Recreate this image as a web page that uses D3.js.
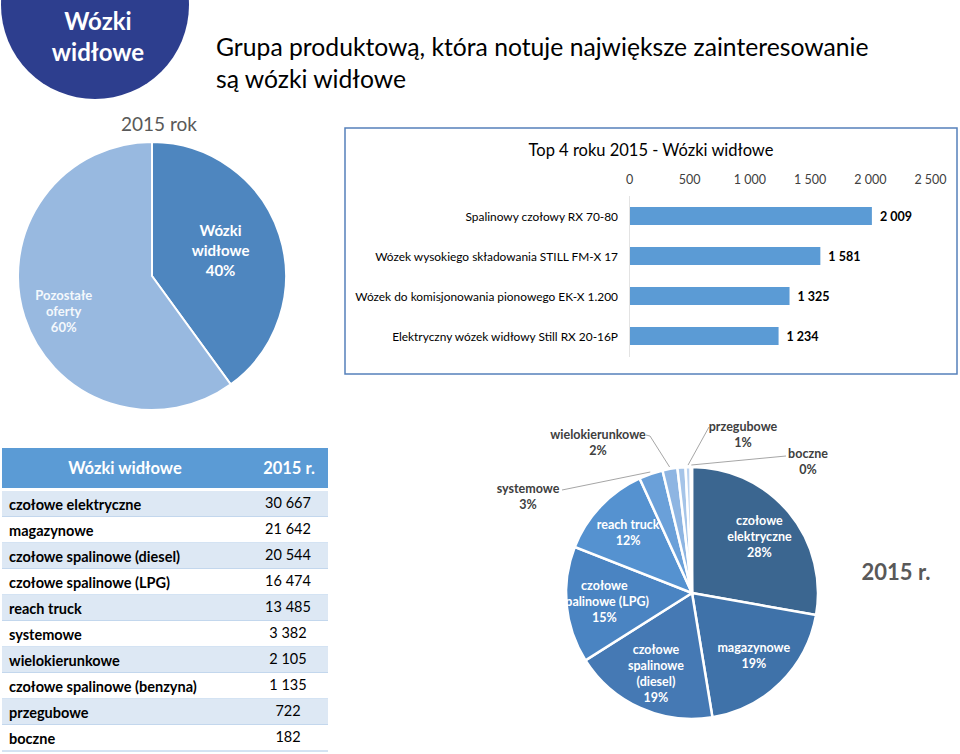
<!DOCTYPE html>
<html><head><meta charset="utf-8">
<script src="https://cdn.jsdelivr.net/npm/d3@7"></script>
<style>
body{margin:0;background:#fff;}
svg{display:block;font-family:Lato,"Open Sans",sans-serif;}
</style></head>
<body>
<svg id="c" width="960" height="754"></svg>
<script>
// ---- data ----
const shareLabels = ["Wózki widłowe", "Pozostałe oferty"];
const shareValues = [40, 60];

const topCategories = ["Spalinowy czołowy RX 70-80", "Wózek wysokiego składowania STILL FM-X 17", "Wózek do komisjonowania pionowego EK-X 1.200", "Elektryczny wózek widłowy Still RX 20-16P"];
const topValues = [2009, 1581, 1325, 1234];
const topTicks = [0, 500, 1000, 1500, 2000, 2500];

const typeCategories = ["czołowe elektryczne", "magazynowe", "czołowe spalinowe (diesel)", "czołowe spalinowe (LPG)", "reach truck", "systemowe", "wielokierunkowe", "czołowe spalinowe (benzyna)", "przegubowe", "boczne"];
const typeValues = [30667, 21642, 20544, 16474, 13485, 3382, 2105, 1135, 722, 182];
const typePieLabels = ["czołowe\nelektryczne", "magazynowe", "czołowe\nspalinowe\n(diesel)", "czołowe\nspalinowe (LPG)", "reach truck", "systemowe", "wielokierunkowe", null, "przegubowe", "boczne"];
const typePiePercents = [28, 19, 19, 15, 12, 3, 2, 1, 1, 0];

// ---- styles / layout ----
const svg = d3.select("#c");
const fmt = v => d3.format(",")(v).replace(/,/g, " ");

// badge
svg.append("circle").attr("cx", 95).attr("cy", 5).attr("r", 94).attr("fill", "#2d3e8e");
svg.append("text").attr("x", 98).attr("y", 30).attr("text-anchor", "middle").attr("fill", "#fff")
  .attr("font-size", 24).attr("font-weight", 700).text("Wózki");
svg.append("text").attr("x", 98).attr("y", 61).attr("text-anchor", "middle").attr("fill", "#fff")
  .attr("font-size", 24).attr("font-weight", 700).text("widłowe");

// title
svg.append("text").attr("x", 216).attr("y", 56).attr("font-size", 24.7).attr("fill", "#000")
  .text("Grupa produktową, która notuje największe zainteresowanie");
svg.append("text").attr("x", 216).attr("y", 88).attr("font-size", 24.7).attr("fill", "#000")
  .text("są wózki widłowe");

svg.append("text").attr("x", 159).attr("y", 131).attr("text-anchor", "middle").attr("font-size", 19)
  .attr("fill", "#595959").text("2015 rok");

// ---- pie 1 ----
(function(){
  const cx = 152, cy = 276, R = 134;
  const g = svg.append("g").attr("transform", `translate(${cx},${cy})`);
  const pie = d3.pie().sort(null).value(d => d)(shareValues);
  const arc = d3.arc().innerRadius(0).outerRadius(R);
  const colors = ["#4e86bf", "#98b9e0"];
  g.selectAll("path").data(pie).join("path").attr("d", arc).attr("fill", (d,i) => colors[i])
    .attr("stroke", "#fff").attr("stroke-width", 2);
  const lab = [{r: 70, fs: 15, lh: 20, dx: 2, dy: -4}, {r: 96, fs: 13, lh: 16, dx: 3, dy: 6}];
  pie.forEach((d,i) => {
    const a = d3.arc().innerRadius(lab[i].r).outerRadius(lab[i].r);
    let [x, y] = a.centroid(d);
    x += lab[i].dx; y += lab[i].dy;
    const lines = i === 0 ? ["Wózki", "widłowe", shareValues[i] + "%"] : ["Pozostałe", "oferty", shareValues[i] + "%"];
    const t = g.append("text").attr("text-anchor", "middle").attr("fill", i === 0 ? "#fff" : "#f4f8fc")
      .attr("font-size", lab[i].fs).attr("font-weight", 700);
    lines.forEach((l, k) => t.append("tspan").attr("x", x).attr("y", y + (k - 1) * lab[i].lh + lab[i].fs * 0.35).text(l));
  });
})();

// ---- bar chart ----
(function(){
  svg.append("rect").attr("x", 345).attr("y", 128).attr("width", 612).attr("height", 246)
    .attr("fill", "#fff").attr("stroke", "#5580bb").attr("stroke-width", 1.5);
  svg.append("text").attr("x", 651).attr("y", 156).attr("text-anchor", "middle").attr("font-size", 16.5)
    .attr("fill", "#000").text("Top 4 roku 2015 - Wózki widłowe");
  const x = d3.scaleLinear().domain([0, 2500]).range([629, 930]);
  const y = d3.scaleBand().domain(topCategories).range([195, 357]).paddingInner(0.55).paddingOuter(0.3);
  const ax = svg.append("g").attr("transform", "translate(0,184)")
    .call(d3.axisTop(x).tickValues(topTicks).tickSize(0).tickPadding(0).tickFormat(fmt));
  ax.select(".domain").remove();
  ax.selectAll("text").attr("font-size", 12.5).attr("fill", "#404040").attr("font-family", "Lato, sans-serif");
  svg.append("line").attr("x1", 629.5).attr("x2", 629.5).attr("y1", 196).attr("y2", 357).attr("stroke", "#e3e3e3");
  const g = svg.append("g");
  g.selectAll("rect").data(topValues).join("rect")
    .attr("x", x(0) + 1).attr("y", (d,i) => y(topCategories[i]))
    .attr("width", d => x(d) - x(0)).attr("height", y.bandwidth()).attr("fill", "#5b9bd5");
  g.selectAll("text.v").data(topValues).join("text").attr("class", "v")
    .attr("x", d => x(d) + 9).attr("y", (d,i) => y(topCategories[i]) + y.bandwidth() / 2 + 5)
    .attr("font-size", 12.5).attr("font-weight", 700).attr("fill", "#000").text(fmt);
  g.selectAll("text.c").data(topCategories).join("text").attr("class", "c")
    .attr("x", 618).attr("y", d => y(d) + y.bandwidth() / 2 + 4.5).attr("text-anchor", "end")
    .attr("font-size", 11.9).attr("fill", "#000").text(d => d);
})();

// ---- table ----
(function(){
  const x0 = 2, w = 326, top = 448, hh = 40, rh = 26;
  svg.append("rect").attr("x", x0).attr("y", top).attr("width", w).attr("height", hh).attr("fill", "#5b9bd5");
  svg.append("text").attr("x", 125).attr("y", top + 26).attr("text-anchor", "middle").attr("fill", "#fff")
    .attr("font-size", 16.5).attr("font-weight", 700).text("Wózki widłowe");
  svg.append("text").attr("x", 289).attr("y", top + 26).attr("text-anchor", "middle").attr("fill", "#fff")
    .attr("font-size", 16.5).attr("font-weight", 700).text("2015 r.");
  const y = d3.scaleBand().domain(typeCategories).range([top + hh + 3, top + hh + 3 + rh * typeCategories.length]);
  const rows = svg.append("g").selectAll("g").data(typeCategories).join("g")
    .attr("transform", d => `translate(0,${y(d)})`);
  rows.append("rect").attr("x", x0).attr("width", w).attr("height", y.bandwidth())
    .attr("fill", (d,i) => i % 2 === 0 ? "#dde8f4" : "#fff");
  rows.append("line").attr("x1", x0).attr("x2", x0 + w).attr("y1", y.bandwidth()).attr("y2", y.bandwidth())
    .attr("stroke", "#a9c6e6").attr("stroke-width", 1);
  rows.append("text").attr("x", 9).attr("y", 19).attr("font-size", 14.5).attr("font-weight", 700)
    .attr("fill", "#000").text(d => d);
  rows.append("text").attr("x", 288).attr("y", 17).attr("text-anchor", "middle").attr("font-size", 14.5)
    .attr("fill", "#000").text((d,i) => fmt(typeValues[i]));
})();

// ---- pie 2 ----
(function(){
  const cx = 692, cy = 593, R = 126;
  const g = svg.append("g").attr("transform", `translate(${cx},${cy})`);
  const pie = d3.pie().sort(null).value(d => d)(typeValues);
  const arc = d3.arc().innerRadius(0).outerRadius(R);
  const colors = ["#3b6690", "#3f72a9", "#4579b4", "#4a84c2", "#5592d0", "#6aa0d9", "#8eb5e2", "#a5c4e8", "#bad2ef", "#d3e2f4"];
  g.selectAll("path").data(pie).join("path").attr("d", arc).attr("fill", (d,i) => colors[i])
    .attr("stroke", "#fff").attr("stroke-width", 2.5);
  const inArc = d3.arc().innerRadius(88).outerRadius(88);
  const edgeArc = d3.arc().innerRadius(R + 2).outerRadius(R + 2);
  // outside label anchors (layout only)
  const outside = {5: {x: 528, y: 488, lx: 562, ly: 490}, 6: {x: 598, y: 434, lx: 646, ly: 435, bend: [650, 436]},
                   8: {x: 743, y: 426, lx: 709, ly: 427}, 9: {x: 808, y: 453, lx: 786, ly: 456}};
  pie.forEach((d, i) => {
    const lbl = typePieLabels[i];
    if (!lbl) return;
    const lines = lbl.split("\n").concat([typePiePercents[i] + "%"]);
    if (outside[i]) {
      const o = outside[i];
      const [ex, ey] = edgeArc.centroid(d);
      const pts = [[o.lx, o.ly]];
      if (o.bend) pts.push(o.bend);
      pts.push([ex + cx, ey + cy]);
      svg.append("path").attr("d", d3.line()(pts)).attr("fill", "none").attr("stroke", "#a6a6a6").attr("stroke-width", 1);
      const t = svg.append("text").attr("text-anchor", "middle").attr("fill", "#404040")
        .attr("font-size", 12.5).attr("font-weight", 700);
      lines.forEach((l, k) => t.append("tspan").attr("x", o.x).attr("y", o.y + k * 16 + 4.5).text(l));
    } else {
      const [x, y] = inArc.centroid(d);
      const t = g.append("text").attr("text-anchor", "middle").attr("fill", "#fff")
        .attr("font-size", 12.5).attr("font-weight", 700);
      const n = lines.length;
      lines.forEach((l, k) => t.append("tspan").attr("x", x).attr("y", y + (k - (n - 1) / 2) * 16 + 4.5).text(l));
    }
  });
  svg.append("text").attr("x", 896).attr("y", 580).attr("text-anchor", "middle").attr("font-size", 22)
    .attr("font-weight", 700).attr("fill", "#595959").text("2015 r.");
})();
</script>
</body></html>
